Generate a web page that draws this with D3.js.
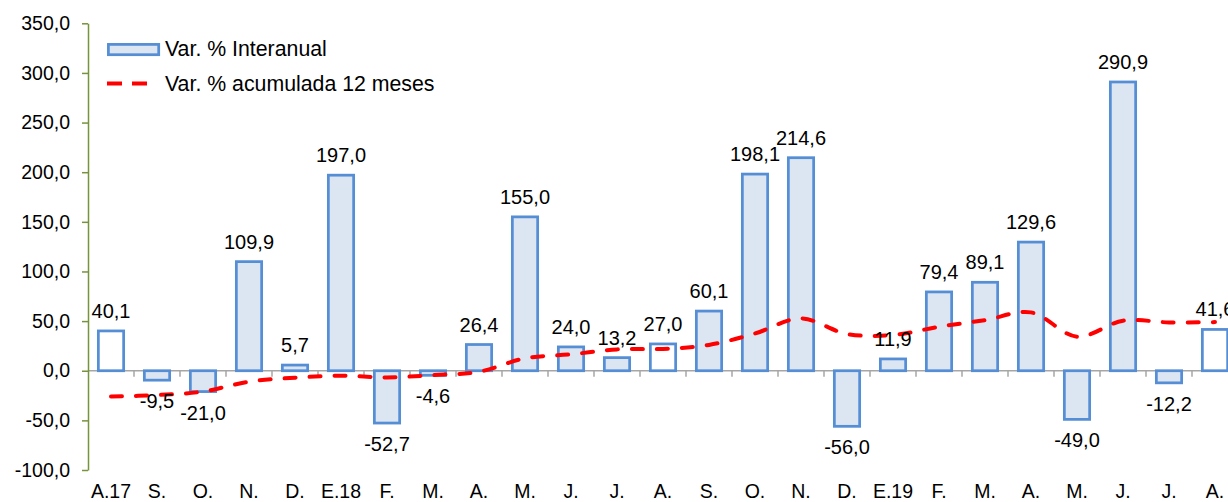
<!DOCTYPE html>
<html>
<head>
<meta charset="utf-8">
<script src="https://cdn.jsdelivr.net/npm/d3@7"></script>
<style>
  html, body { margin: 0; padding: 0; background: #fff; overflow: hidden; }
  text { font-family: "Liberation Sans", Arial, sans-serif; fill: #000; }
</style>
</head>
<body>
<svg id="chart" width="1228" height="502"></svg>
<script>
const categories = ["A.17","S.","O.","N.","D.","E.18","F.","M.","A.","M.","J.","J.","A.","S.","O.","N.","D.","E.19","F.","M.","A.","M.","J.","J.","A."];
const interanual = [40.1,-9.5,-21.0,109.9,5.7,197.0,-52.7,-4.6,26.4,155.0,24.0,13.2,27.0,60.1,198.1,214.6,-56.0,11.9,79.4,89.1,129.6,-49.0,290.9,-12.2,41.6];
const acumulada = [-26.0,-24.5,-21.0,-11.0,-7.0,-5.0,-6.7,-4.4,-1.0,12.5,16.5,21.5,22.0,26.0,37.6,52.7,37.0,36.0,44.3,51.0,58.8,34.3,50.4,48.7,49.0];
const yTicks = [-100,-50,0,50,100,150,200,250,300,350];
const seriesNames = ["Var. % Interanual", "Var. % acumulada 12 meses"];

const loc = d3.formatLocale({decimal: ",", thousands: ".", grouping: [3], currency: ["", "€"], minus: "-"});
const fmt = loc.format(".1f");

const svg = d3.select("#chart");
const plotLeft = 88, plotTop = 23.3, plotBottom = 470;
const step = 46;
const n = categories.length;

const x = d3.scaleBand()
  .domain(d3.range(n))
  .range([plotLeft, plotLeft + step * n])
  .paddingInner(0.45)
  .paddingOuter(0.225);
const cx = i => x(i) + x.bandwidth() / 2;

const y = d3.scaleLinear().domain([-100, 350]).range([plotBottom, plotTop]);

const axisGreen = "#77933C";
const barStroke = "#558ED5";
const barFill = "#DCE6F2";
const fs = "19.5px";

// Zero line with category separators
const zeroY = y(0);
svg.append("line")
  .attr("x1", plotLeft).attr("x2", 1228)
  .attr("y1", zeroY).attr("y2", zeroY)
  .attr("stroke", "#a6a6a6").attr("stroke-width", 1.5);
svg.append("g").selectAll("line")
  .data(d3.range(1, n + 1))
  .join("line")
  .attr("x1", i => plotLeft + i * x.step())
  .attr("x2", i => plotLeft + i * x.step())
  .attr("y1", zeroY).attr("y2", zeroY + 6)
  .attr("stroke", "#a6a6a6").attr("stroke-width", 1.5);

// Y axis
const yAxis = svg.append("g")
  .attr("transform", `translate(${plotLeft},0)`)
  .call(d3.axisLeft(y).tickValues(yTicks).tickSize(6).tickSizeOuter(0).tickPadding(12).tickFormat(fmt));
yAxis.select(".domain").attr("stroke", axisGreen).attr("stroke-width", 1.5);
yAxis.selectAll(".tick line").attr("stroke", axisGreen).attr("stroke-width", 1.5);
yAxis.selectAll(".tick text").attr("font-size", fs).attr("fill", "#000")
  .attr("font-family", '"Liberation Sans", Arial, sans-serif');

// X axis labels
const xAxis = svg.append("g")
  .attr("transform", `translate(0,${plotBottom})`)
  .call(d3.axisBottom(x).tickSize(0).tickPadding(14).tickFormat(i => categories[i]));
xAxis.select(".domain").remove();
xAxis.selectAll(".tick text").attr("font-size", fs).attr("fill", "#000")
  .attr("font-family", '"Liberation Sans", Arial, sans-serif');

// Bars (August bars drawn white)
svg.append("g").selectAll("rect")
  .data(interanual)
  .join("rect")
  .attr("x", (d, i) => x(i))
  .attr("width", x.bandwidth())
  .attr("y", d => y(Math.max(0, d)))
  .attr("height", d => Math.abs(y(d) - y(0)))
  .attr("fill", (d, i) => i % 12 === 0 ? "#ffffff" : barFill)
  .attr("stroke", barStroke)
  .attr("stroke-width", 2.75);

// Line
const line = d3.line()
  .x((d, i) => cx(i))
  .y(d => y(d))
  .curve(d3.curveCatmullRom.alpha(0.5));
svg.append("path")
  .datum(acumulada)
  .attr("d", line)
  .attr("fill", "none")
  .attr("stroke", "#ff0000")
  .attr("stroke-width", 4)
  .attr("stroke-linecap", "round")
  .attr("stroke-dasharray", "11,14");

// Data labels
svg.append("g").selectAll("text")
  .data(interanual)
  .join("text")
  .attr("x", (d, i) => cx(i))
  .attr("y", d => d >= 0 ? y(d) - 13 : y(d) + 28)
  .attr("text-anchor", "middle")
  .attr("font-size", "20px")
  .text(d => fmt(d));

// Legend
const lg = svg.append("g");
lg.append("rect")
  .attr("x", 108.4).attr("y", 44.4).attr("width", 50.3).attr("height", 10.3)
  .attr("fill", barFill).attr("stroke", barStroke).attr("stroke-width", 2.75);
lg.append("text").attr("x", 165).attr("y", 56).attr("font-size", "21.3px").text(seriesNames[0]);
lg.append("line")
  .attr("x1", 107).attr("x2", 147).attr("y1", 83.5).attr("y2", 83.5)
  .attr("stroke", "#ff0000").attr("stroke-width", 4).attr("stroke-dasharray", "15,10");
lg.append("text").attr("x", 165).attr("y", 90.7).attr("font-size", "21.3px").text(seriesNames[1]);
</script>
</body>
</html>
